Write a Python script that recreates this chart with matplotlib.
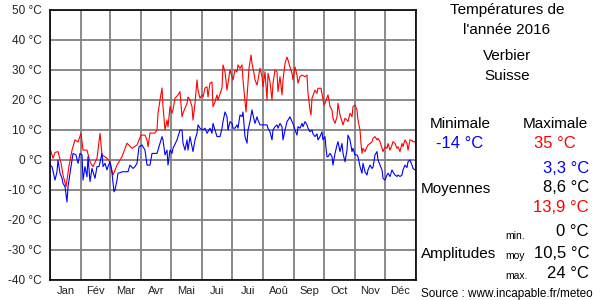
import numpy as np
import matplotlib
matplotlib.use('Agg')
import matplotlib.pyplot as plt

plt.rcParams['font.family'] = ['Liberation Sans', 'DejaVu Sans']

# daily max temperature (day of year, °C)
days_max = [0, 3, 5, 8, 11, 13, 16, 19, 22, 25, 28, 31, 33, 37, 40, 43, 47, 50, 52, 57,
            60, 63, 67, 72, 77, 82, 87, 91, 95, 97, 98, 100, 105, 107, 108, 110, 112, 113, 115, 117,
            118, 120, 122, 123, 125, 128, 130, 132, 133, 137, 138, 140, 142, 143, 145, 147, 148, 150, 152, 153,
            155, 157, 158, 160, 162, 163, 165, 167, 168, 170, 172, 173, 175, 177, 178, 180, 183, 185, 187, 188,
            190, 192, 193, 195, 196, 198, 199, 201, 202, 204, 205, 207, 208, 210, 212, 213, 215, 217, 218, 220,
            222, 223, 225, 227, 228, 230, 232, 233, 235, 237, 238, 240, 242, 243, 245, 247, 248, 250, 252, 255,
            257, 258, 260, 261, 262, 265, 267, 268, 271, 272, 274, 275, 278, 280, 282, 283, 285, 287, 288, 290,
            292, 293, 295, 297, 298, 300, 302, 303, 305, 307, 308, 310, 311, 312, 313, 315, 317, 318, 320, 322,
            323, 325, 327, 328, 330, 332, 333, 335, 337, 338, 340, 342, 343, 345, 347, 348, 350, 352, 353, 355,
            357, 358, 360, 362, 363, 365]
tmax = [3.9, 0.6, 2.5, 2.8, -1, -5, -8.9, -2, 3.3, 6.7, 6, 8.9, 3.3, 3.3, -0.6, -2.2, 0.6, 8.9, 1.7, 0.6,
        -0.6, -5, -1.7, 1.1, 5.6, 3.9, 5, 8.3, 8.3, 6.7, 4.4, 9, 9, 10, 15.6, 20, 24, 17.8, 10, 13.3,
        11, 17.8, 15.6, 16.7, 20.6, 21.7, 22.8, 14.4, 15.6, 18.9, 21, 20, 17.8, 13.3, 18.9, 26.7, 23.3, 20.6, 21.7, 21,
        24, 24.4, 21, 25.6, 26, 17.8, 19.4, 21.7, 20, 22, 24, 31.7, 29.4, 23.3, 25.6, 30, 26.7, 30, 29.4, 31.7,
        30.5, 31.7, 26.7, 19.4, 16, 25.6, 30.6, 35, 32.2, 28.9, 26.7, 25, 26.7, 30.6, 27.8, 24.4, 29.4, 20, 28.9, 26,
        20, 25.6, 30, 29.4, 22.8, 27.8, 21.7, 26.7, 32.2, 34.3, 33.3, 31, 28.9, 26.7, 31, 28.3, 25.6, 27.8, 28.3, 27.8,
        28.3, 22.2, 16.7, 15, 20.6, 23.3, 22.2, 23.9, 23.9, 22, 18.3, 18.9, 21.7, 17.8, 16.7, 13.9, 12.2, 14.4, 18.9, 15,
        12.8, 11.7, 13.9, 13.3, 12.8, 15.6, 14.4, 17.8, 18.3, 16.7, 13.3, 10, 5.5, 2.2, 3.9, 2.8, 4.4, 5, 5.5, 6.1,
        7.2, 7.8, 6.7, 7.2, 6.1, 3.9, 2.8, 4.4, 3.9, 5.5, 3.3, 5, 6.1, 5.5, 3.9, 4.4, 2.8, 5.5, 4.5, 6.7,
        5.5, 3.3, 6.7, 6.5, 6.1, 6.1]

# daily min temperature
days_min = [0, 2, 5, 7, 8, 10, 12, 13, 15, 17, 18, 21, 23, 26, 28, 30, 32, 33, 35, 37,
            38, 40, 42, 45, 47, 49, 52, 53, 55, 57, 58, 60, 62, 64, 65, 67, 68, 73, 78, 80,
            83, 85, 87, 89, 92, 95, 97, 100, 102, 107, 108, 110, 112, 113, 115, 117, 118, 120, 122, 123,
            127, 130, 132, 133, 135, 137, 138, 140, 142, 143, 145, 147, 148, 150, 153, 155, 157, 160, 162, 163,
            165, 167, 170, 172, 173, 175, 177, 178, 180, 182, 183, 185, 187, 188, 190, 192, 193, 195, 197, 198,
            200, 202, 203, 205, 207, 208, 210, 213, 217, 218, 220, 222, 223, 225, 227, 228, 230, 232, 233, 235,
            237, 238, 240, 242, 243, 245, 247, 248, 250, 252, 253, 255, 257, 258, 260, 262, 263, 265, 267, 268,
            270, 272, 273, 275, 276, 277, 278, 280, 282, 283, 285, 287, 288, 290, 292, 293, 295, 297, 298, 300,
            302, 303, 305, 307, 308, 310, 312, 313, 315, 317, 318, 320, 322, 323, 325, 327, 328, 330, 332, 333,
            335, 337, 338, 340, 342, 343, 345, 347, 348, 350, 352, 353, 355, 357, 358, 360, 362, 363, 365]
tmin = [-1.7, -2.2, -6.7, -3.9, 0, -4.4, -6.1, -7.8, -8.9, -14, -8.9, -2.2, 2.2, 1.7, -1.1, 2.2, 1.7, -6.7, -2.2, -5.6,
        1.1, -7.2, -2.8, -6.1, -2.2, -2.2, 2.2, -2.2, -1.1, -3.3, -2.2, -0.6, -4.4, -10.6, -10, -6.7, -4.4, -3.9, -3.9, -1.7,
        -2.8, -2.2, -1.1, 4.4, 5, 3.3, -1.7, -1.7, 2.2, 2.2, 3.3, 5.6, 7.8, 6.7, 1.7, 3.3, -1.7, 3.3, 2.2, 3.9,
        6.7, 10, 10, 5.6, 3.3, 6.7, 3.3, 7.8, 4.4, 2.8, 6.7, 8.9, 11.7, 10.6, 10, 10.6, 8.9, 10.6, 8.9, 12.2,
        10, 7.8, 7.8, 10.6, 12.8, 16, 14.4, 10, 12.8, 12.2, 10.6, 10.6, 11.7, 10.6, 15, 14.5, 16, 7.8, 5.6, 10,
        12.8, 16.7, 15, 12.2, 14.4, 13.3, 11.7, 11.7, 11.7, 10.6, 9.4, 6.7, 10, 11.1, 11.7, 10.6, 12.2, 11.1, 6.7, 10,
        12.8, 13.3, 14.4, 12.8, 12.2, 10, 8.3, 11.1, 10.6, 12.2, 11.1, 12.8, 11.7, 10.6, 9.4, 10, 8.7, 7.8, 8.7, 6.7,
        7.8, 9.4, 6.7, 7.8, 3.9, 1.1, 1.1, 2.2, 1.1, -1.7, 2.2, 5, 6.1, 2.8, 5.5, 2.2, -0.6, 3.3, 8.3, 6.7,
        2.8, 3.9, 1.7, 1.7, 1.1, -2.2, -4.4, -1.1, -3.9, -5, -3.3, -1.7, -2.8, -2.5, 1.7, 2.8, 0, -1.7, -3.3, -6.1,
        -6.7, -5, -4.4, -5.5, -3.3, -4, -5, -5.5, -5, -5.5, -5, -3.3, -1.7, -2.5, -0.6, 0, -1.7, -2.8, -3.3]

month_starts = [0, 31, 60, 91, 121, 152, 182, 213, 244, 274, 305, 335, 366]
month_names = ['Jan', 'Fév', 'Mar', 'Avr', 'Mai', 'Jui', 'Jui', 'Aoû', 'Sep', 'Oct', 'Nov', 'Déc']
y_ticks = list(range(-40, 51, 10))

fig = plt.figure(figsize=(6, 3), dpi=100)
ax = fig.add_axes([50 / 600, 20 / 300, 366 / 600, 270 / 300])

ax.plot(days_max, tmax, color='#ff0000', lw=0.8)
ax.plot(days_min, tmin, color='#0000ff', lw=0.8)

ax.set_xlim(0, 366)
ax.set_ylim(-40, 50)
ax.set_yticks(y_ticks)
ax.set_yticklabels([f'{t} °C' for t in y_ticks], fontsize=8.5, color='#222222')
ax.set_xticks(month_starts)
ax.set_xticklabels([])
mids = [(a + b) / 2 for a, b in zip(month_starts[:-1], month_starts[1:])]
ax.set_xticks(mids, minor=True)
ax.set_xticklabels(month_names, minor=True, fontsize=8, color='#222222')
ax.tick_params(which='both', length=0)
ax.tick_params(axis='y', pad=6)
ax.tick_params(axis='x', which='minor', pad=4)
ax.grid(True, which='major', color='#808080', lw=1.3)
ax.set_axisbelow(True)
for s in ax.spines.values():
    s.set_linewidth(1.2)
    s.set_color('black')

# right-hand panel
def ft(x, y, s, **kw):
    kw.setdefault('fontsize', 11)
    kw.setdefault('va', 'center')
    fig.text(x / 600, 1 - y / 300, s, **kw)

ft(507, 10, 'Températures de', ha='center')
ft(507, 30, "l'année 2016", ha='center')
ft(507, 56, 'Verbier', ha='center')
ft(507, 76, 'Suisse', ha='center')
ft(460, 124, 'Minimale', ha='center')
ft(555, 124, 'Maximale', ha='center')
ft(460, 143, '-14 °C', ha='center', color='#0000ff', fontsize=12)
ft(555, 143, '35 °C', ha='center', color='#ff0000', fontsize=12)
ft(589, 168, '3,3 °C', ha='right', color='#0000ff', fontsize=12)
ft(421, 189, 'Moyennes', ha='left')
ft(589, 188, '8,6 °C', ha='right', fontsize=12)
ft(589, 208, '13,9 °C', ha='right', color='#ff0000', fontsize=12)
ft(505, 236, 'min.', ha='left', fontsize=7.5)
ft(589, 232, '0 °C', ha='right', fontsize=12)
ft(421, 254, 'Amplitudes', ha='left')
ft(505, 256, 'moy', ha='left', fontsize=7.5)
ft(589, 253, '10,5 °C', ha='right', fontsize=12)
ft(505, 276, 'max.', ha='left', fontsize=7.5)
ft(589, 273, '24 °C', ha='right', fontsize=12)
ft(421, 294, 'Source : www.incapable.fr/meteo', ha='left', fontsize=8.5)

fig.savefig('out.png', dpi=100)
